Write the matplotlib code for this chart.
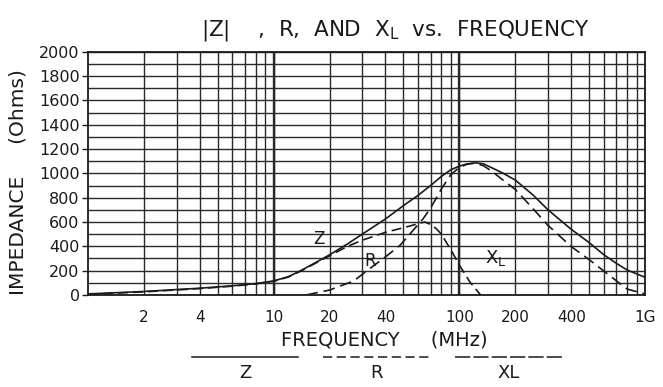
import matplotlib.pyplot as plt
from matplotlib.lines import Line2D
from matplotlib.ticker import LogLocator, MultipleLocator, NullFormatter

# |Z| curve (solid)
freq_z = [1, 2, 4, 6, 8, 10, 12, 14, 17, 20, 25, 30, 40, 50, 60, 70, 80, 90,
          100, 110, 122, 135, 150, 170, 200, 250, 300, 400, 500, 600, 700,
          800, 1000]
imp_z = [8, 28, 55, 75, 93, 115, 150, 200, 270, 330, 420, 500, 625, 735, 820,
         900, 975, 1030, 1060, 1078, 1087, 1078, 1045, 1005, 945, 820, 700,
         540, 430, 330, 260, 205, 145]

# R curve (dashed, rises late and follows Z past the peak)
freq_r = [15, 20, 27, 33, 40, 48, 57, 64, 70, 80, 90, 100, 110, 122, 135,
          150, 170, 200, 250, 300, 400, 500, 600, 700, 800, 1000]
imp_r = [0, 40, 115, 218, 313, 409, 540, 630, 715, 872, 990, 1050, 1075, 1085,
         1062, 1016, 950, 868, 707, 572, 398, 290, 196, 116, 48, 8]

# XL curve (dashed, follows Z at low frequency, peaks near 65 MHz)
freq_xl = [1, 2, 4, 6, 8, 10, 12, 14, 17, 20, 25, 30, 40, 50, 55, 60, 65, 70,
           75, 80, 90, 100, 114, 130]
imp_xl = [5, 25, 52, 72, 90, 112, 147, 196, 265, 322, 400, 450, 515, 553, 570,
          586, 600, 580, 545, 500, 370, 245, 105, 0]

x_ticks = [2, 4, 10, 20, 40, 100, 200, 400, 1000]
x_tick_labels = ["2", "4", "10", "20", "40", "100", "200", "400", "1G"]
y_ticks = list(range(0, 2001, 200))

ink = "#1a1a1a"
grid_c = "#2a2a2a"

fig = plt.figure(figsize=(6.63, 3.87), dpi=100)
ax = fig.add_axes([0.1327, 0.238, 0.8403, 0.628])
ax.set_xscale("log")
ax.set_xlim(1, 1000)
ax.set_ylim(0, 2000)

# log-paper grid
ax.xaxis.set_minor_locator(LogLocator(base=10, subs=range(2, 10)))
ax.xaxis.set_minor_formatter(NullFormatter())
ax.yaxis.set_minor_locator(MultipleLocator(100))
ax.set_xticks(x_ticks)
ax.set_xticklabels(x_tick_labels)
ax.set_yticks(y_ticks)
ax.grid(which="both", color=grid_c, lw=1.0, zorder=1)
for dec in [10, 100]:
    ax.axvline(dec, color=grid_c, lw=1.7, zorder=1)

ax.tick_params(axis="x", which="both", length=0, pad=11, labelsize=11,
               labelcolor=ink)
ax.tick_params(axis="y", which="major", length=4, width=1, pad=2,
               labelsize=11.5, labelcolor=ink, color=ink)
ax.tick_params(axis="y", which="minor", length=0)
for s in ax.spines.values():
    s.set_linewidth(1.3)
    s.set_color(ink)

ax.plot(freq_z, imp_z, color=ink, lw=1.2, zorder=3)
ax.plot(freq_r, imp_r, color=ink, lw=1.2, linestyle=(0, (7, 3.5)), zorder=3)
ax.plot(freq_xl, imp_xl, color=ink, lw=1.2, linestyle=(0, (6, 3)), zorder=3)

ax.text(17.5, 460, "Z", fontsize=12, color=ink, ha="center", va="center")
ax.text(33, 275, "R", fontsize=12, color=ink, ha="center", va="center")
ax.text(156, 300, "X$_\\mathrm{L}$", fontsize=13, color=ink, ha="center",
        va="center")

fig.text(0.596, 0.92, "|Z|    ,  R,  AND  X$_\\mathrm{L}$  vs.  FREQUENCY",
         fontsize=15.5, color=ink, ha="center", va="center")
fig.text(0.58, 0.121, "FREQUENCY     (MHz)", fontsize=14, color=ink,
         ha="center", va="center")
fig.text(0.027, 0.53, "IMPEDANCE     (Ohms)", fontsize=14.5, color=ink,
         rotation=90, ha="center", va="center")

# legend under the axis label
leg = [("Z", "-", 0.2896, 0.4495),
       ("R", (0, (6, 3)), 0.487, 0.6486),
       ("XL", (0, (10, 2)), 0.686, 0.848)]
for name, ls, x0, x1 in leg:
    fig.add_artist(Line2D([x0, x1], [0.0775, 0.0775], color=ink, lw=1.1,
                          linestyle=ls, transform=fig.transFigure))
    fig.text((x0 + x1) / 2, 0.036, name, fontsize=13, color=ink,
             ha="center", va="center")

fig.savefig("out.png", dpi=100)
